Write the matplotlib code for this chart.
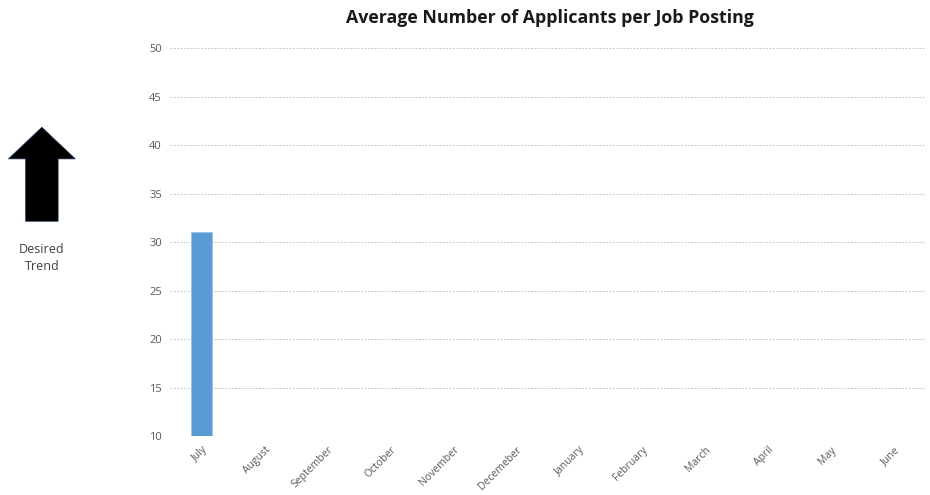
import matplotlib
matplotlib.use("Agg")
import matplotlib.pyplot as plt
from matplotlib.patches import FancyArrow

# data
months = ["July", "August", "September", "October", "November", "Decemeber",
          "January", "February", "March", "April", "May", "June"]
applicants = [31, None, None, None, None, None, None, None, None, None, None, None]

plt.rcParams["font.family"] = ["Open Sans", "DejaVu Sans"]

fig = plt.figure(figsize=(9.3, 4.95), dpi=100)
ax = fig.add_axes([0.183, 0.119, 0.812, 0.784])

x = list(range(len(months)))
heights = [v - 10 if v is not None else 0 for v in applicants]
ax.bar(x, heights, bottom=10, width=0.33, color="#5b9bd5",
       edgecolor="#9dc3e6", linewidth=0.6, zorder=3)

ax.set_ylim(10, 50)
ax.set_xlim(-0.5, len(months) - 0.5)
ax.set_yticks(range(10, 51, 5))
ax.set_xticks(x)
ax.set_xticklabels(months, rotation=45, ha="right", rotation_mode="anchor",
                   fontsize=7.5, color="#595959")
ax.tick_params(axis="y", labelsize=8, labelcolor="#595959", length=0, pad=6)
ax.tick_params(axis="x", length=0, pad=6)
ax.yaxis.grid(True, color="#c8c8c8", linestyle=(0, (2, 1.5)), linewidth=0.7, zorder=0)
for s in ax.spines.values():
    s.set_visible(False)

fig.text(0.591, 0.963, "Average Number of Applicants per Job Posting",
         ha="center", va="center", fontsize=12.8, fontweight="bold", color="#1a1a1a")

# desired trend arrow
arrow = FancyArrow(0.045, 0.553, 0, 0.19, width=0.035, head_width=0.072,
                   head_length=0.064, length_includes_head=True,
                   transform=fig.transFigure, color="black", ec="#1f3864", lw=0.5)
fig.patches.append(arrow)
fig.text(0.045, 0.478, "Desired\nTrend", ha="center", va="center",
         fontsize=9, color="#404040", linespacing=1.4)

fig.savefig("out.png")
